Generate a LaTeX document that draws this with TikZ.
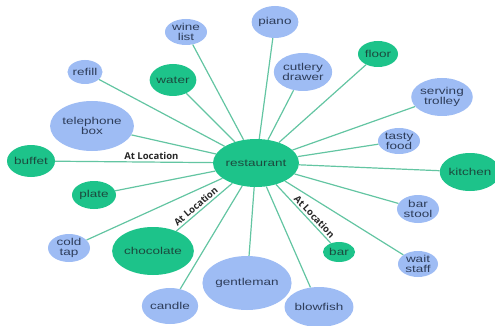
\documentclass[tikz,border=0pt]{standalone}
\usepackage{fontspec}
\usetikzlibrary{shapes.geometric,backgrounds}
\newfontfamily\nodefont[FakeStretch=1.35]{Liberation Sans}
\newfontfamily\edgefont{Open Sans}
\definecolor{greenfill}{HTML}{1DC38A}
\definecolor{bluefill}{HTML}{9EBCF4}
\definecolor{greentext}{HTML}{1B4A3E}
\definecolor{bluetext}{HTML}{2E3D5A}
\definecolor{linkcol}{HTML}{63C5A2}
\tikzset{
  concept/.style={ellipse, inner sep=0pt, align=center,
    font=\nodefont\fontsize{10}{10}\selectfont},
  gnode/.style={concept, fill=greenfill, text=greentext},
  bnode/.style={concept, fill=bluefill, text=bluetext},
  sz/.style 2 args={minimum width=#1pt, minimum height=#2pt},
  link/.style={draw=linkcol, line width=1.2pt},
  rel/.style={font=\edgefont\bfseries\fontsize{9.5}{10}\selectfont,
    text=black!85, sloped, above, inner sep=2pt}
}
\begin{document}
\begin{tikzpicture}[x=1pt,y=-1pt]
\useasboundingbox (0,0) rectangle (495,326);
% hub
\node[gnode, sz={76}{48}] (rest) at (256,163) {restaurant};
% related concepts
\node[gnode, sz={58}{38}] (kitchen) at (470,172) {kitchen};
\node[bnode, sz={42}{26}] (wine)    at (186,32)  {wine\\list};
\node[bnode, sz={34}{24}] (refill)  at (85,72)   {refill};
\node[gnode, sz={46}{32}] (water)   at (173,80)  {water};
\node[bnode, sz={76}{50}] (phone)   at (92,126)  {telephone\\box};
\node[gnode, sz={48}{32}] (buffet)  at (31,161)  {buffet};
\node[bnode, sz={46}{32}] (piano)   at (275,22)  {piano};
\node[bnode, sz={56}{38}] (cutlery) at (303,72)  {cutlery\\drawer};
\node[gnode, sz={40}{26}] (floor)   at (378,54)  {floor};
\node[bnode, sz={58}{38}] (trolley) at (442,97)  {serving\\trolley};
\node[bnode, sz={42}{26}] (tasty)   at (399,141) {tasty\\food};
\node[bnode, sz={42}{28}] (stool)   at (418,209) {bar\\stool};
\node[bnode, sz={40}{26}] (wait)    at (418,264) {wait\\staff};
\node[gnode, sz={32}{20}] (bar)     at (339,252) {bar};
\node[bnode, sz={64}{40}] (blowfish) at (319,307) {blowfish};
\node[bnode, sz={80}{54}] (gent)    at (247,283) {gentleman};
\node[bnode, sz={54}{36}] (candle)  at (170,306) {candle};
\node[gnode, sz={74}{48}] (choc)    at (153,251) {chocolate};
\node[bnode, sz={42}{28}] (coldtap) at (69,248)  {cold\\tap};
\node[gnode, sz={44}{28}] (plate)   at (94,195)  {plate};
% connectors behind the ellipses
\begin{scope}[on background layer]
\foreach \n in {kitchen,wine,refill,water,phone,piano,cutlery,floor,
                trolley,tasty,stool,wait,blowfish,gent,candle,coldtap,plate}
  \draw[link] (rest) -- (\n);
\draw[link] (rest) -- node[rel, pos=0.39] {At Location} (buffet);
\draw[link] (rest) -- node[rel, pos=0.58] {At Location} (choc);
\draw[link] (rest) -- node[rel, pos=0.62] {At Location} (bar);
\end{scope}
\end{tikzpicture}
\end{document}
